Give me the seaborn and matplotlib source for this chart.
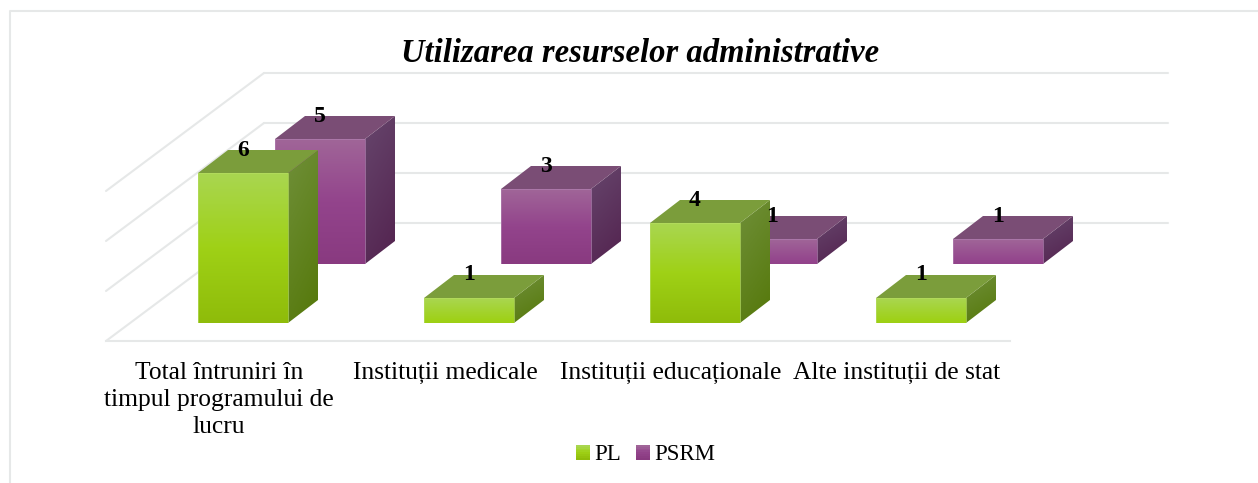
import numpy as np, pandas as pd
import seaborn as sns
import matplotlib.pyplot as plt
from matplotlib.colors import LinearSegmentedColormap
from matplotlib.legend_handler import HandlerBase
from matplotlib.patches import Polygon, Rectangle

### data
categories = ["Total întruniri în\ntimpul programului de\nlucru", "Instituții medicale",
              "Instituții educaționale", "Alte instituții de stat"]
pl_values = [6, 1, 4, 1]
psrm_values = [5, 3, 1, 1]
grid_values = [0, 2, 4, 6]
title = "Utilizarea resurselor administrative"

### colours (front top to bottom, side, top face)
pl_front = ["#a9d650", "#9fd116", "#8fbc0a"]
pl_side = ["#6f8f38", "#55780a"]
pl_top = "#7b9d3b"
psrm_front = ["#a06598", "#93448c", "#893a80"]
psrm_side = ["#66456c", "#53234f"]
psrm_top = "#7a4d75"
grid_color = "#e6e8e8"

### layout, all in pixels of the 1258x483 picture
W, H = 1258, 483
FLOOR_X0, FLOOR_X1, FLOOR_Y0 = 106, 1010, 341
UNIT_Y = 25
YMAX = 6
WALL_OFF = (158, 118)
PL_OFF = (24, 18)
PSRM_OFF = (101, 77)
BAR_DX, BAR_DY = 30, 23
BAR_WIDTH = 90

sns.set_style("white")
plt.rcParams['font.family'] = ['Liberation Serif', 'DejaVu Serif']

fig = plt.figure(figsize=(W / 100, H / 100), dpi=100, facecolor="white")

def plane(off, zorder):
	# one vertical slice of the fake 3D box: same size as the floor front, moved back by off
	ax = fig.add_axes([(FLOOR_X0 + off[0]) / W, (H - FLOOR_Y0 + off[1]) / H,
		(FLOOR_X1 - FLOOR_X0) / W, UNIT_Y * YMAX / H], zorder=zorder)
	ax.patch.set_visible(False)
	sns.despine(ax=ax, left=True, right=True, top=True, bottom=True)
	ax.tick_params(length=0, labelleft=False, labelbottom=False)
	return ax

def set_limits(ax):
	ax.set_xlim(-0.5, len(categories) - 0.5)
	ax.set_ylim(0, YMAX)
	ax.set_xlabel("")
	ax.set_ylabel("")

def gradient(ax, extent, stops, clip, diagonal=False, end=1.0):
	cmap = LinearSegmentedColormap.from_list("g", stops)
	v = np.linspace(0, end, 64)
	img = np.tile(v[:, None], (1, 16))
	if diagonal:
		img = 0.75 * img + 0.25 * np.linspace(0, 1, 16)[None, :]
	im = ax.imshow(img, cmap=cmap, vmin=0, vmax=1, extent=extent, origin="upper",
		aspect="auto", zorder=2, interpolation="bilinear")
	im.set_clip_box(fig.bbox)
	im.set_clip_path(clip)

def draw_bars(ax, values, front, side, top, edge):
	data = pd.DataFrame({"cat": categories, "val": values})
	sns.barplot(data=data, x="cat", y="val", ax=ax, width=BAR_WIDTH / ((FLOOR_X1 - FLOOR_X0) / len(categories)),
		color=front[1], saturation=1)
	set_limits(ax)
	dx = BAR_DX / ((FLOOR_X1 - FLOOR_X0) / len(categories))
	dy = BAR_DY / UNIT_Y
	tops = []
	for p in list(ax.patches):
		x0, x1 = p.get_x(), p.get_x() + p.get_width()
		y1 = p.get_height()
		p.set_facecolor("none")
		p.set_edgecolor("none")
		# short bars only run through the light part of the gradient
		gradient(ax, [x0, x1, 0, y1], front, p, end=1.0 if y1 >= 2 else 0.55)
		side_poly = Polygon([(x1, 0), (x1 + dx, dy), (x1 + dx, y1 + dy), (x1, y1)], closed=True,
			facecolor="none", edgecolor="none", transform=ax.transData, clip_on=False)
		ax.add_patch(side_poly)
		gradient(ax, [x1, x1 + dx, 0, y1 + dy], side, side_poly, diagonal=True)
		ax.add_patch(Polygon([(x0, y1), (x1, y1), (x1 + dx, y1 + dy), (x0 + dx, y1 + dy)], closed=True,
			facecolor=top, edgecolor="none", zorder=3, clip_on=False))
		ax.add_patch(Rectangle((x0, 0), x1 - x0, y1, facecolor="none", edgecolor=edge, linewidth=0.5, zorder=3))
		tops.append((x0 + (x1 - x0) / 2, y1 + dy))
	set_limits(ax)
	return tops

class GradientHandle(HandlerBase):
	# legend key as a few stacked strips, the same gradient as the bars
	def __init__(self, stops):
		super().__init__()
		self.cmap = LinearSegmentedColormap.from_list("g", stops)
	def create_artists(self, legend, orig, xdescent, ydescent, width, height, fontsize, trans):
		n = 8
		return [Rectangle((-xdescent, -ydescent + height * (n - 1 - i) / n), width, height / n + 0.2,
			facecolor=self.cmap(i / (n - 1)), edgecolor="none", transform=trans) for i in range(n)]

### walls and floor
ax_floor = plane((0, 0), 1)
ax_wall = plane(WALL_OFF, 0)
set_limits(ax_floor)
set_limits(ax_wall)
ax_wall.set_yticks(grid_values)
ax_wall.grid(axis="y", color=grid_color, linewidth=1.5)
for gl in ax_wall.get_ygridlines():
	gl.set_clip_on(False)
ax_floor.spines["bottom"].set_visible(True)
ax_floor.spines["bottom"].set_color(grid_color)
ax_floor.spines["bottom"].set_linewidth(1.5)
depth_x = WALL_OFF[0] / ((FLOOR_X1 - FLOOR_X0) / len(categories))
depth_y = WALL_OFF[1] / UNIT_Y
for v in grid_values:
	ax_floor.plot([-0.5, -0.5 + depth_x], [v, v + depth_y], color=grid_color, linewidth=1.5, clip_on=False)
set_limits(ax_floor)

### category labels belong to the floor front
ax_floor.set_xticks(range(len(categories)))
ax_floor.set_xticklabels(categories, fontsize=18.4, color="black", linespacing=1.3)
ax_floor.tick_params(axis="x", labelbottom=True, pad=15, length=0)

### bars
ax_psrm = plane(PSRM_OFF, 2)
ax_pl = plane(PL_OFF, 3)
psrm_tops = draw_bars(ax_psrm, psrm_values, psrm_front, psrm_side, psrm_top, "#b07fb0")
pl_tops = draw_bars(ax_pl, pl_values, pl_front, pl_side, pl_top, "#b5dc60")

# value labels go on the front axes so that none gets hidden by a bar
for (x, y), v in zip(psrm_tops, psrm_values):
	ax_pl.text(x, y, str(v), transform=ax_psrm.transData, ha="center", va="center",
		fontsize=17, fontweight="bold", color="black", zorder=6, clip_on=False)
for (x, y), v in zip(pl_tops, pl_values):
	ax_pl.text(x, y, str(v), ha="center", va="center",
		fontsize=17, fontweight="bold", color="black", zorder=6, clip_on=False)

### title, legend, outer frame
fig.text(640 / W, 1 - 54 / H, title, ha="center", va="center", fontsize=23.5,
	fontweight="bold", fontstyle="italic", color="black")
handles = [Rectangle((0, 0), 1, 1), Rectangle((0, 0), 1, 1, label="b")]
fig.legend(handles, ["PL", "PSRM"], loc="center", bbox_to_anchor=(646 / W, 1 - 455 / H), ncol=2, frameon=False,
	fontsize=16.5, handlelength=0.6, handleheight=0.6, handletextpad=0.2, columnspacing=0.65, labelcolor="black",
	handler_map={handles[0]: GradientHandle(pl_front), handles[1]: GradientHandle(psrm_front)})
fig.add_artist(plt.Line2D([10 / W, 10 / W, 1], [0, 1 - 11 / H, 1 - 11 / H], color=grid_color, linewidth=1.5))

plt.savefig("out.png", dpi=100)
plt.close()
